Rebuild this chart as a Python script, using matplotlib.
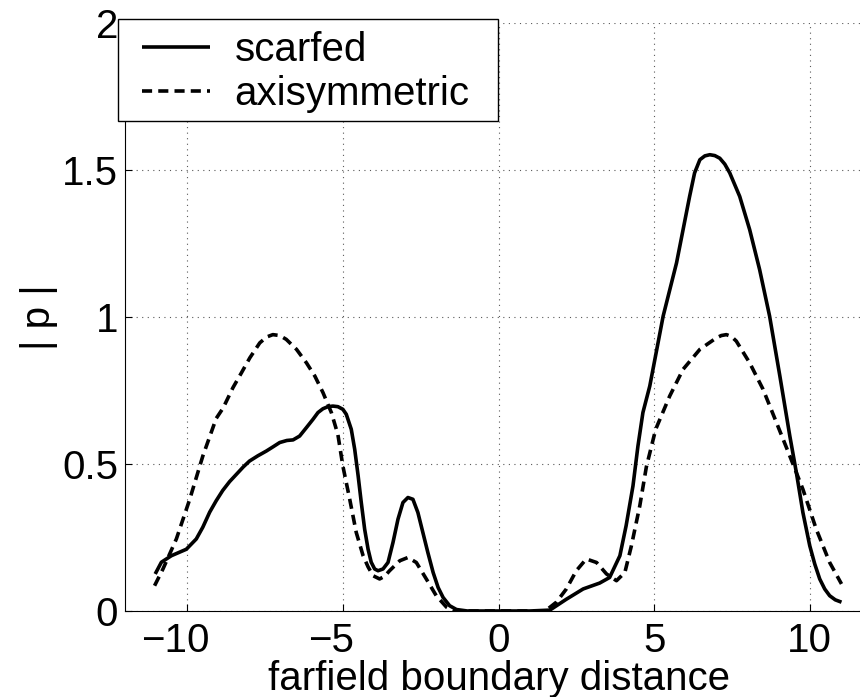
import matplotlib
matplotlib.use("Agg")
import matplotlib.pyplot as plt
import matplotlib.transforms as mtrans
from matplotlib.patches import Rectangle

plt.rcParams['font.family'] = ['Liberation Sans', 'DejaVu Sans']

# scarfed (solid)
scarfed_x = [-11.03, -10.83, -10.51, -10.03, -9.71, -9.5, -9.28, -9.07, -8.86, -8.64,
             -8.42, -8.2, -8.0, -7.73, -7.46, -7.25, -7.03, -6.8, -6.6, -6.39,
             -6.17, -5.96, -5.8, -5.64, -5.48, -5.32, -5.16,
             -5.0, -4.89, -4.73, -4.62, -4.51, -4.41, -4.3, -4.19, -4.09, -3.98,
             -3.87, -3.71, -3.55, -3.39, -3.23, -3.07, -2.91, -2.75, -2.59, -2.43,
             -2.27, -2.1, -1.94, -1.78, -1.57, -1.35, -1.0, 0.0, 1.0, 1.65,
             2.18, 2.72, 3.25, 3.57, 3.9, 4.1, 4.32, 4.48, 4.64, 4.86,
             5.29, 5.72, 6.14, 6.3, 6.47, 6.63, 6.79, 6.95, 7.11, 7.27,
             7.43, 7.75, 8.07, 8.39, 8.71, 9.04, 9.36, 9.57, 9.78, 10.0,
             10.16, 10.32, 10.48, 10.64, 10.82, 11.02]
scarfed_y = [0.126, 0.166, 0.188, 0.21, 0.245, 0.285, 0.336, 0.375, 0.41, 0.44,
             0.465, 0.49, 0.51, 0.528, 0.544, 0.558, 0.573, 0.58, 0.582, 0.595,
             0.624, 0.652, 0.675, 0.688, 0.695, 0.697, 0.695,
             0.686, 0.669, 0.618, 0.55, 0.46, 0.37, 0.278, 0.21, 0.166, 0.143,
             0.137, 0.143, 0.165, 0.233, 0.312, 0.369, 0.386, 0.38, 0.335, 0.267,
             0.199, 0.131, 0.08, 0.046, 0.018, 0.005, 0.0, 0.0, 0.0, 0.003,
             0.04, 0.075, 0.095, 0.114, 0.188, 0.29, 0.425, 0.561, 0.675, 0.765,
             1.003, 1.184, 1.41, 1.49, 1.535, 1.548, 1.552, 1.549, 1.54, 1.52,
             1.49, 1.41, 1.297, 1.161, 1.003, 0.799, 0.595, 0.471, 0.335, 0.222,
             0.16, 0.109, 0.075, 0.052, 0.038, 0.03]

# axisymmetric (dashed)
axisym_x = [-11.05, -10.78, -10.35, -9.92, -9.5, -9.07, -8.85, -8.53, -8.26, -7.99,
            -7.67, -7.45, -7.25, -7.03, -6.82, -6.49, -6.17, -5.9, -5.64, -5.37,
            -5.16, -5.0, -4.78, -4.57, -4.35, -4.19, -4.03, -3.82, -3.66, -3.5,
            -3.17, -2.91, -2.64, -2.32, -2.0, -1.67, -1.45, 0.0, 1.5, 1.86,
            2.18, 2.5, 2.82, 3.15, 3.47, 3.79, 4.06, 4.27, 4.54, 4.75,
            5.05, 5.5, 5.93, 6.47, 7.0, 7.16, 7.32, 7.48, 7.64, 8.07,
            8.5, 8.93, 9.36, 9.78, 10.21, 10.64, 11.02]
axisym_y = [0.086, 0.143, 0.245, 0.38, 0.527, 0.655, 0.69, 0.76, 0.81, 0.861,
            0.912, 0.932, 0.94, 0.937, 0.924, 0.89, 0.844, 0.799, 0.743, 0.675,
            0.6, 0.493, 0.38, 0.267, 0.188, 0.15, 0.12, 0.109, 0.118, 0.137,
            0.171, 0.182, 0.165, 0.109, 0.052, 0.013, 0.0, 0.0, 0.0, 0.03,
            0.075, 0.137, 0.177, 0.165, 0.126, 0.103, 0.131, 0.222, 0.358, 0.49,
            0.618, 0.731, 0.822, 0.89, 0.929, 0.937, 0.94, 0.934, 0.918, 0.844,
            0.754, 0.641, 0.527, 0.414, 0.278, 0.165, 0.092]

x_ticks = [-10, -5, 0, 5, 10]
x_ticklabels = ['\u221210', '\u22125', '0', '5', '10']
y_ticks = [0, 0.5, 1, 1.5, 2]
y_ticklabels = ['0', '0.5', '1', '1.5', '2']

W, H = 860, 697
FS = 29
fig = plt.figure(figsize=(W / 100, H / 100), dpi=100)
ax = fig.add_axes([125 / W, 86 / H, (872 - 125) / W, (611 - 23) / H])

ax.plot(scarfed_x, scarfed_y, color='black', lw=2.6, label='scarfed',
        solid_capstyle='butt', solid_joinstyle='round')
ax.plot(axisym_x, axisym_y, color='black', lw=2.6, label='axisymmetric',
        linestyle=(0, (2.8, 1.7)), dash_capstyle='butt')

ax.set_xlim(-12, 12)
ax.set_ylim(0, 2)
ax.set_xticks(x_ticks)
ax.set_xticklabels(x_ticklabels)
ax.set_yticks(y_ticks)
ax.set_yticklabels(y_ticklabels)
ax.tick_params(direction='in', length=5, width=0.8, labelsize=FS)
ax.tick_params(axis='x', pad=8)
ax.tick_params(axis='y', pad=5)
# Matlab-style: centre the digits on the tick, minus sign hangs left
shift = mtrans.ScaledTranslation(-8.5 / 72, 0, fig.dpi_scale_trans)
for lbl in ax.get_xticklabels():
    if lbl.get_text().startswith('\u2212'):
        lbl.set_transform(lbl.get_transform() + shift)

for s in ['top', 'right']:
    ax.spines[s].set_visible(False)
for s in ['left', 'bottom']:
    ax.spines[s].set_linewidth(0.8)
ax.grid(True, color='0.35', linestyle=(0, (1, 4)), linewidth=0.8)
ax.set_axisbelow(True)

ax.set_xlabel('farfield boundary distance', fontsize=FS, labelpad=0)
ax.set_ylabel('| p |', fontsize=FS, labelpad=3)

# legend frame
frame = Rectangle((118 / W, 1 - 121 / H), (498 - 118) / W, (121 - 19) / H,
                  transform=fig.transFigure, facecolor='white',
                  edgecolor='black', linewidth=1.0, zorder=1)
fig.patches.append(frame)

handles, labels = ax.get_legend_handles_labels()
leg = fig.legend(handles, labels, loc='upper left',
                 bbox_to_anchor=(142 / W, 1 - 31 / H),
                 fontsize=FS, frameon=False,
                 handlelength=1.7, handletextpad=0.6, borderpad=0,
                 labelspacing=0.15, borderaxespad=0)

fig.savefig('out.png', dpi=100)
